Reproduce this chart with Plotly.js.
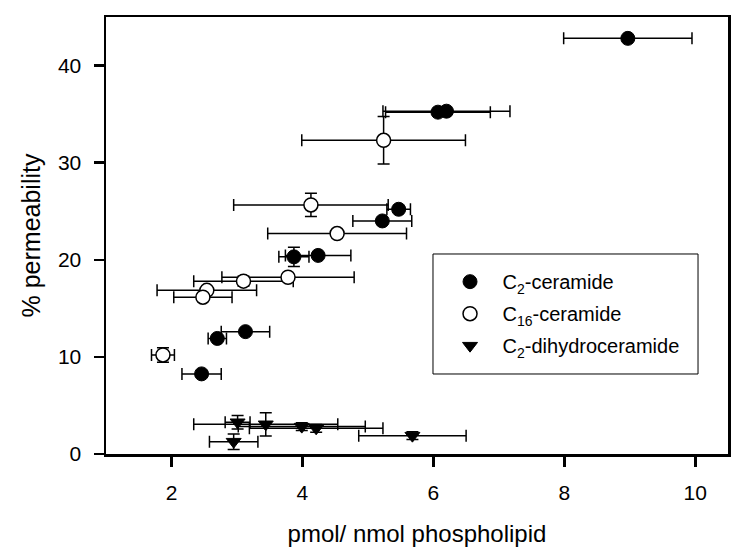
<!DOCTYPE html>
<html>
<head>
<meta charset="utf-8">
<script src="https://cdn.plot.ly/plotly-3.0.1.min.js"></script>
<style>html,body{margin:0;padding:0;background:#fff;}#chart{width:750px;height:557px;}</style>
</head>
<body>
<div id="chart"></div>
<script>
// C2-ceramide (filled circles)
var c2X    = [8.97, 6.07, 6.20, 5.47, 5.22, 4.24, 3.87, 3.13, 2.70, 2.46];
var c2Y    = [42.8, 35.2, 35.3, 25.2, 24.0, 20.45, 20.3, 12.6, 11.9, 8.25];
var c2Xerr = [0.98, 0.80, 0.97, 0.18, 0.45, 0.50, 0.23, 0.37, 0.14, 0.30];
var c2Yerr = [0, 0, 0, 0, 0, 0, 1.0, 0, 0, 0];

// C16-ceramide (open circles)
var c16X    = [5.24, 4.13, 4.53, 3.78, 3.10, 2.54, 2.48, 1.87];
var c16Y    = [32.3, 25.65, 22.7, 18.2, 17.8, 16.85, 16.15, 10.2];
var c16Xerr = [1.25, 1.18, 1.06, 1.01, 0.76, 0.76, 0.445, 0.175];
var c16Yerr = [2.45, 1.2, 0.4, 0, 0.5, 0, 0, 0.75];

// C2-dihydroceramide (down triangles)
var dhX    = [2.95, 3.01, 3.44, 3.99, 4.21, 5.68];
var dhY    = [1.27, 3.27, 3.06, 2.82, 2.65, 1.89];
var dhXerr = [0.37, 0.19, 1.10, 0.97, 1.02, 0.82];
var dhYerr = [0.8, 0.7, 1.2, 0.4, 0.4, 0.4];

var seriesNames = ["C<sub>2</sub>-ceramide", "C<sub>16</sub>-ceramide", "C<sub>2</sub>-dihydroceramide"];
var xTicks = [2, 4, 6, 8, 10];
var yTicks = [0, 10, 20, 30, 40];

var FONT = "Liberation Sans, Arial, sans-serif";

function errx(arr){ return {type:'data', array:arr, visible:true, color:'#000', thickness:1.5, width:6}; }
function erry(arr){ return {type:'data', array:arr, visible:true, color:'#000', thickness:1.5, width:6}; }

var traces = [
  {x:c16X, y:c16Y, type:'scatter', mode:'markers', name:seriesNames[1], legendrank:2, legendgroup:'b',
   marker:{symbol:'circle', size:14, color:'#fff', line:{color:'#000', width:1.5}},
   error_x:errx(c16Xerr), error_y:erry(c16Yerr)},
  {x:c2X, y:c2Y, type:'scatter', mode:'markers', name:seriesNames[0], legendrank:1, legendgroup:'a',
   marker:{symbol:'circle', size:14, color:'#000', line:{color:'#000', width:1}},
   error_x:errx(c2Xerr), error_y:erry(c2Yerr)},
  {x:dhX, y:dhY, type:'scatter', mode:'markers', name:seriesNames[2], legendrank:3, legendgroup:'c',
   marker:{symbol:'triangle-down', size:13, color:'#000', line:{color:'#000', width:1}},
   error_x:errx(dhXerr), error_y:erry(dhYerr)}
];

var layout = {
  width:750, height:557,
  margin:{l:106, r:22, t:17, b:103},
  paper_bgcolor:'#fff', plot_bgcolor:'#fff',
  font:{family:FONT, color:'#000'},
  showlegend:true,
  legend:{x:0.533, y:0.439, xanchor:'left', yanchor:'top',
    bgcolor:'rgba(0,0,0,0)', borderwidth:0,
    font:{family:FONT, size:20, color:'#000'},
    tracegroupgap:3, itemwidth:55},
  shapes:[{type:'rect', xref:'paper', yref:'paper', x0:0.5257, x1:0.9518, y0:0.1831, y1:0.4577,
    line:{color:'#000', width:1}, fillcolor:'rgba(0,0,0,0)', layer:'below'}],
  xaxis:{range:[1, 10.5], tickvals:xTicks, ticktext:xTicks.map(String),
    showgrid:false, zeroline:false, showline:true, linecolor:'#000', linewidth:2.5, mirror:true,
    ticks:'outside', ticklen:10, tickwidth:2.5, tickcolor:'#000',
    tickfont:{family:FONT, size:21}, ticklabelstandoff:8,
    title:{text:'pmol/ nmol phospholipid', font:{family:FONT, size:24}, standoff:23}},
  yaxis:{range:[0, 45], tickvals:yTicks, ticktext:yTicks.map(String),
    showgrid:false, zeroline:false, showline:true, linecolor:'#000', linewidth:2.5, mirror:true,
    ticks:'outside', ticklen:10, tickwidth:2.5, tickcolor:'#000',
    tickfont:{family:FONT, size:21}, ticklabelstandoff:8,
    title:{text:'% permeability', font:{family:FONT, size:25}, standoff:10}}
};

Plotly.newPlot('chart', traces, layout, {displayModeBar:false, staticPlot:true});
</script>
</body>
</html>
